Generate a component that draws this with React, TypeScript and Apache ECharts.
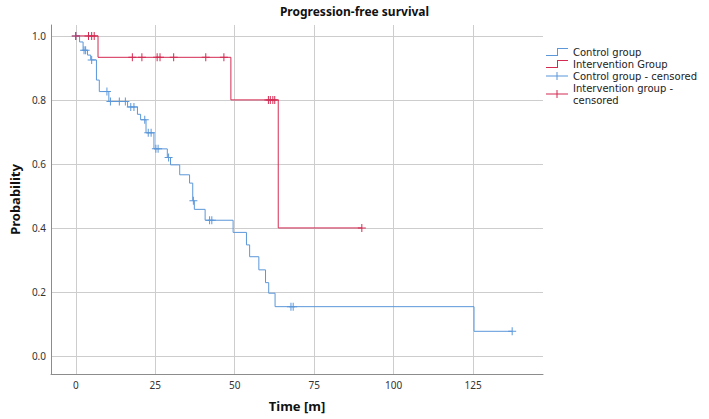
import React, { useEffect, useRef } from 'react';
import * as echarts from 'echarts';

// Kaplan–Meier step points (time in months, survival probability after the step)
const controlEventTimes = [0, 1.2, 2.3, 3.7, 4.7, 6.5, 7.4, 10.4, 16.3, 19.4, 20.4, 22.1, 24.6, 28.8, 29.8, 32.7, 35.8, 36.8, 37.3, 40.7, 49.5, 53.7, 54.7, 57.6, 59.7, 60.7, 62.7, 125.3, 137.3];
const controlSurvival = [1, 0.981, 0.955, 0.94, 0.925, 0.862, 0.826, 0.795, 0.778, 0.755, 0.738, 0.697, 0.647, 0.62, 0.597, 0.566, 0.54, 0.485, 0.458, 0.424, 0.386, 0.347, 0.31, 0.269, 0.229, 0.196, 0.154, 0.077, 0.077];
const controlCensorTimes = [0, 2.6, 3.1, 5.0, 9.8, 10.9, 13.7, 15.6, 17.3, 18.3, 21.7, 22.8, 23.7, 25.2, 25.9, 29.2, 37.0, 42.1, 42.8, 67.7, 68.4, 137.3];

const interventionEventTimes = [0, 7.0, 48.8, 63.7, 90];
const interventionSurvival = [1, 0.933, 0.8, 0.4, 0.4];
const interventionCensorTimes = [0, 4.0, 5.0, 5.8, 17.8, 20.8, 25.6, 26.5, 30.8, 40.9, 46.6, 60.6, 61.2, 62.0, 62.6, 90];

const xTicks = [0, 25, 50, 75, 100, 125];
const yTicks = [0, 0.2, 0.4, 0.6, 0.8, 1.0];

const seriesNames = ['Control group', 'Intervention Group', 'Control group - censored', 'Intervention group - censored'];

const BLUE = '#5b97d9';
const RED = '#d42a52';

function survivalAt(times: number[], surv: number[], t: number): number {
  let s = surv[0];
  for (let i = 0; i < times.length; i++) {
    if (times[i] <= t) s = surv[i];
  }
  return s;
}

const stepIcon = 'path://M0,7H11V0H22V1H12V8H0Z';
const censorIcon = 'path://M0,3.5H22V4.5H0ZM10.5,0H11.5V8H10.5Z';
const plusSymbol = 'path://M0,3.5H8V4.5H0ZM3.5,0H4.5V8H3.5Z';

export default function App() {
  const ref = useRef<HTMLDivElement>(null);
  useEffect(() => {
    if (!ref.current) return;
    const chart = echarts.init(ref.current, undefined, { renderer: 'svg' });
    const controlLine = controlEventTimes.map((t, i) => [t, controlSurvival[i]]);
    const interventionLine = interventionEventTimes.map((t, i) => [t, interventionSurvival[i]]);
    const controlCensors = controlCensorTimes.map((t) => [t, survivalAt(controlEventTimes, controlSurvival, t)]);
    const interventionCensors = interventionCensorTimes.map((t) => [t, survivalAt(interventionEventTimes, interventionSurvival, t)]);

    const option: any = {
      animation: false,
      textStyle: { fontFamily: '"Noto Sans", "DejaVu Sans", sans-serif' },
      title: {
        text: 'Progression-free survival',
        left: 'center',
        top: 0,
        textStyle: { fontSize: 12, fontWeight: 'bold', color: '#111' },
      },
      grid: { left: 46, right: 166, top: 25, bottom: 45 },
      legend: {
        orient: 'vertical',
        left: 541,
        top: 41,
        itemWidth: 22,
        itemHeight: 8,
        itemGap: 0,
        textStyle: { fontFamily: '"DejaVu Sans", sans-serif', fontSize: 10, color: '#222', lineHeight: 12 },
        formatter: (n: string) => (n === seriesNames[3] ? 'Intervention group -\ncensored' : n),
        data: [
          { name: seriesNames[0], icon: stepIcon },
          { name: seriesNames[1], icon: stepIcon },
          { name: seriesNames[2], icon: censorIcon },
          { name: seriesNames[3], icon: censorIcon },
        ],
      },
      xAxis: {
        type: 'value',
        min: -7.79,
        max: 147,
        name: 'Time [m]',
        nameLocation: 'middle',
        nameGap: 25,
        nameTextStyle: { fontSize: 13, fontWeight: 'bold', color: '#111' },
        axisLine: { show: true, onZero: false, lineStyle: { color: '#8c8c8c' } },
        axisTick: { show: false, customValues: xTicks },
        axisLabel: { customValues: xTicks, fontSize: 10, color: '#333', margin: 6 },
        splitLine: { show: true, lineStyle: { color: '#cdcdcd' } },
      },
      yAxis: {
        type: 'value',
        min: -0.0564,
        max: 1.034,
        name: 'Probability',
        nameLocation: 'middle',
        nameGap: 29,
        nameTextStyle: { fontSize: 13, fontWeight: 'bold', color: '#111' },
        axisLine: { show: true, onZero: false, lineStyle: { color: '#8c8c8c' } },
        axisTick: { show: false, customValues: yTicks },
        axisLabel: {
          customValues: yTicks,
          fontSize: 10,
          color: '#333',
          margin: 5,
          formatter: (v: number) => v.toFixed(1),
        },
        splitLine: { show: true, lineStyle: { color: '#cdcdcd' } },
      },
      series: [
        {
          name: seriesNames[0],
          type: 'line',
          step: 'end',
          symbol: 'none',
          data: controlLine,
          color: BLUE,
          itemStyle: { color: BLUE },
          lineStyle: { color: BLUE, width: 1 },
          z: 3,
        },
        {
          name: seriesNames[1],
          type: 'line',
          step: 'end',
          symbol: 'none',
          data: interventionLine,
          color: RED,
          itemStyle: { color: RED },
          lineStyle: { color: RED, width: 1 },
          z: 4,
        },
        {
          name: seriesNames[2],
          type: 'scatter',
          symbol: plusSymbol,
          symbolSize: 8,
          data: controlCensors,
          itemStyle: { color: BLUE, opacity: 1 },
          z: 5,
        },
        {
          name: seriesNames[3],
          type: 'scatter',
          symbol: plusSymbol,
          symbolSize: 8,
          data: interventionCensors,
          itemStyle: { color: RED, opacity: 1 },
          z: 6,
        },
      ],
    };
    chart.setOption(option);
    return () => chart.dispose();
  }, []);
  return <div ref={ref} style={{ position: 'absolute', left: 0, top: 0, width: 709, height: 419, background: '#fff' }} />;
}
